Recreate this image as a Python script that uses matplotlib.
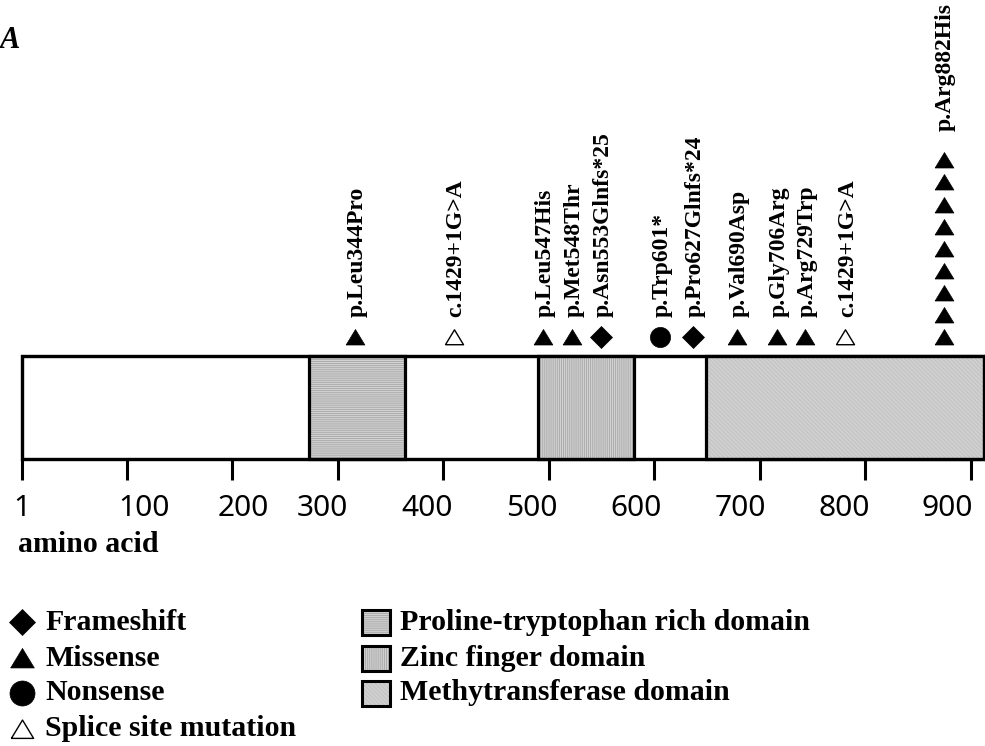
import matplotlib
matplotlib.use("Agg")
import matplotlib.pyplot as plt
from matplotlib.lines import Line2D
from matplotlib.transforms import ScaledTranslation

# --- data -----------------------------------------------------------------
protein_length = 912

domain_names = ["Proline-tryptophan rich domain", "Zinc finger domain", "Methytransferase domain"]
domain_starts = [273, 490, 649]
domain_ends = [364, 581, 912]

mutation_labels = ["p.Leu344Pro", "c.1429+1G>A", "p.Leu547His", "p.Met548Thr",
                   "p.Asn553Glnfs*25", "p.Trp601*", "p.Pro627Glnfs*24", "p.Val690Asp",
                   "p.Gly706Arg", "p.Arg729Trp", "c.1429+1G>A", "p.Arg882His"]
mutation_positions = [316, 410, 494, 522, 549, 605, 637, 678, 716, 743, 781, 874]
mutation_types = ["Missense", "Splice", "Missense", "Missense", "Frameshift", "Nonsense",
                  "Frameshift", "Missense", "Missense", "Missense", "Splice", "Missense"]
mutation_counts = [1, 1, 1, 1, 1, 1, 1, 1, 1, 1, 1, 9]

tick_values = [1, 100, 200, 300, 400, 500, 600, 700, 800, 900]

# --- styles ---------------------------------------------------------------
SERIF = "Liberation Serif"
SANS = "Noto Sans"
tri = [(-1, -0.8), (1, -0.8), (0, 0.85), (-1, -0.8)]
marker_style = {
    "Frameshift": dict(marker="D", ms=11.0, mfc="black", mec="black", mew=0.5),
    "Missense": dict(marker=tri, ms=13.5, mfc="black", mec="black", mew=0.5),
    "Nonsense": dict(marker="o", ms=14.5, mfc="black", mec="black", mew=0.5),
    "Splice": dict(marker=tri, ms=13.0, mfc="white", mec="black", mew=1.0),
}
legend_types = ["Frameshift", "Missense", "Nonsense", "Splice"]
legend_texts = ["Frameshift", "Missense", "Nonsense", "Splice site mutation"]
domain_hatches = ["--------", "||||||||", "\\\\\\\\\\\\\\\\"]
domain_faces = ["#d4d4d4", "#d4d4d4", "#d0d0d0"]
domain_hatch_colors = ["#a9a9a9", "#a9a9a9", "#c2c2c2"]
# horizontal nudge (pixels) of each tick label relative to its tick
tick_label_shift = [-1, 17, 10.5, -16, -16.5, -17, -18.5, -20, -21.5, -23.5]

plt.rcParams["hatch.linewidth"] = 0.7

W, H, DPI = 985, 746, 100
fig = plt.figure(figsize=(W / DPI, H / DPI), dpi=DPI)
ax = fig.add_axes([0, 0, 1, 1])
ax.set_xlim(-20.3, 913.3)
ax.set_ylim(-2.786, 4.456)
for s in ["top", "left", "right"]:
    ax.spines[s].set_visible(False)
ax.spines["bottom"].set_position(("data", 0))
ax.spines["bottom"].set_visible(False)
ax.set_yticks([])

lw_box = 2.3

# protein body
ax.barh(0.5, protein_length - 1, left=1, height=1, color="white",
        edgecolor="black", linewidth=lw_box, zorder=1)
# domains: hatched fill then outline
for st, en, hatch, face, hc in zip(domain_starts, domain_ends, domain_hatches,
                                   domain_faces, domain_hatch_colors):
    ax.barh(0.5, en - st, left=st, height=1, color=face, edgecolor=hc,
            linewidth=0, hatch=hatch, zorder=2)
    ax.barh(0.5, en - st, left=st, height=1, fill=False, edgecolor="black",
            linewidth=lw_box, zorder=3)
ax.barh(0.5, protein_length - 1, left=1, height=1, fill=False,
        edgecolor="black", linewidth=lw_box, zorder=4)

# axis ticks
ax.set_xticks(tick_values)
ax.set_xticklabels([str(v) for v in tick_values])
ax.tick_params(axis="x", direction="out", length=15, width=2.2, pad=10.5,
               labelsize=21.5, color="black")
for lab, dx in zip(ax.get_xticklabels(), tick_label_shift):
    lab.set_fontfamily(SANS)
    lab.set_fontweight("bold")
    lab.set_transform(lab.get_transform() + ScaledTranslation(dx / DPI, 0, fig.dpi_scale_trans))

# mutation markers and labels
base_y = 1.18
step_y = 0.215
for label, pos, mtype, cnt in zip(mutation_labels, mutation_positions,
                                   mutation_types, mutation_counts):
    ys = [base_y + i * step_y for i in range(cnt)]
    ax.plot([pos] * cnt, ys, linestyle="none", zorder=5, **marker_style[mtype])
    ax.annotate(label, (pos, ys[-1]), xytext=(1.5, 15 if cnt == 1 else 21),
                textcoords="offset points", rotation=90, ha="center", va="bottom",
                fontsize=17, fontweight="bold", family=SERIF)

# panel letter and axis caption
fig.text(0.0, 1 - 40 / H, "A", fontsize=22, fontweight="bold", style="italic",
         family=SERIF, ha="left", va="center")
fig.text(18 / W, 1 - 544 / H, "amino acid", fontsize=21.5, fontweight="bold",
         family=SERIF, ha="left", va="center")

# legend: mutation types
legend_sizes = {"Frameshift": 13.5, "Missense": 17, "Nonsense": 18, "Splice": 16}
row_y = [622, 658, 693, 729]
for mtype, txt, py in zip(legend_types, legend_texts, row_y):
    st = dict(marker_style[mtype])
    st["ms"] = legend_sizes[mtype]
    fig.add_artist(Line2D([22 / W], [1 - py / H], transform=fig.transFigure,
                          linestyle="none", **st))
    fig.text(45 / W, 1 - py / H, txt, fontsize=21.5, fontweight="bold",
             family=SERIF, ha="left", va="center")

# legend: domains
for name, hatch, face, hc, py in zip(domain_names, domain_hatches, domain_faces,
                                     domain_hatch_colors, row_y):
    x0, w, h = 362 / W, 28 / W, 25 / H
    y0 = 1 - py / H - h / 2
    fig.add_artist(plt.Rectangle((x0, y0), w, h, transform=fig.transFigure,
                                 facecolor=face, edgecolor=hc, linewidth=0,
                                 hatch=hatch))
    fig.add_artist(plt.Rectangle((x0, y0), w, h, transform=fig.transFigure,
                                 fill=False, edgecolor="black", linewidth=2.2))
    fig.text(400 / W, 1 - py / H, name, fontsize=21.5, fontweight="bold",
             family=SERIF, ha="left", va="center")

fig.savefig("out.png", dpi=DPI)
